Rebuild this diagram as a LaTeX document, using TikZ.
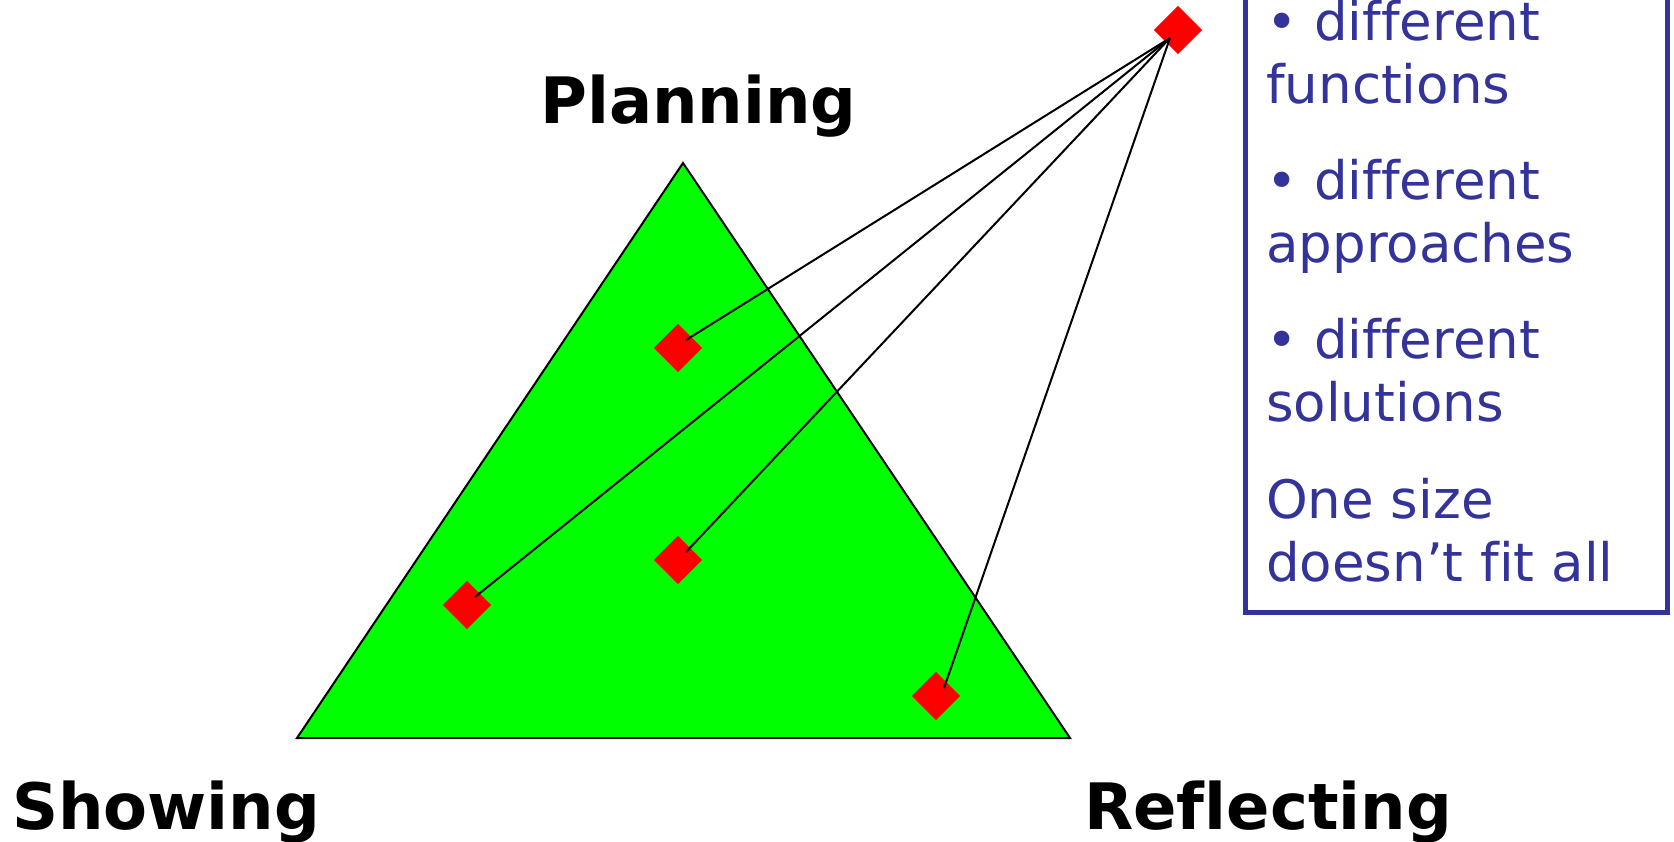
\documentclass[tikz,border=0pt]{standalone}
\usepackage{fontspec}
\setmainfont[Ligatures={NoCommon}]{DejaVu Sans}
\usetikzlibrary{calc}
\definecolor{boxblue}{RGB}{51,51,153}
\definecolor{trigreen}{RGB}{0,255,0}
\begin{document}
\begin{tikzpicture}[x=1pt,y=-1pt,
  dia/.style={fill=red, rectangle, rotate=45, minimum size=34pt, inner sep=0pt},
  lbl/.style={font=\fontsize{64}{64}\selectfont\bfseries, anchor=base west, inner sep=0pt},
  btxt/.style={font=\fontsize{53}{63}\selectfont, text=boxblue, anchor=base west, inner sep=0pt},
  conn/.style={draw=black, line width=2pt},
  tri/.style={fill=trigreen, draw=black, line width=2pt, line join=miter},
  frame/.style={draw=boxblue, line width=5pt}]
\useasboundingbox (0,0) rectangle (1674,842);
\clip (0,0) rectangle (1674,842);
% triangle
\coordinate (apex) at (683,163);
\coordinate (bl) at (297,738);
\coordinate (br) at (1070,738);
\draw[tri] (apex) -- (bl) -- (br) -- cycle;
% labels
\node[lbl] (planning) at (540,124) {Planning};
\node[lbl] (showing) at (12,829) {Showing};
\node[lbl] (reflecting) at (1084,829) {Reflecting};
% diamonds
\node[dia] (dtop) at (1178,30) {};
\node[dia] (d1) at (678,348) {};
\node[dia] (d2) at (467,605) {};
\node[dia] (d3) at (678,560) {};
\node[dia] (d4) at (936,696) {};
% connector ends
\coordinate (ptop) at ($(dtop)+(-8,8)$);
\coordinate (p1) at ($(d1)+(8,-8)$);
\coordinate (p2) at ($(d2)+(8,-8)$);
\coordinate (p3) at ($(d3)+(8,-8)$);
\coordinate (p4) at ($(d4)+(8,-8)$);
\draw[conn] (ptop) -- (p1);
\draw[conn] (ptop) -- (p2);
\draw[conn] (ptop) -- (p3);
\draw[conn] (ptop) -- (p4);
% box
\draw[frame] (1245,-20) rectangle (1667,612);
\node[btxt] (t1) at (1266,40.6) {• different};
\node[btxt] (t2) at (1266,103.6) {functions};
\node[btxt] (t3) at (1266,199.6) {• different};
\node[btxt] (t4) at (1266,262.6) {approaches};
\node[btxt] (t5) at (1266,358.7) {• different};
\node[btxt] (t6) at (1266,421.7) {solutions};
\node[btxt] (t7) at (1266,518.9) {One size};
\node[btxt] (t8) at (1266,581.9) {doesn’t fit all};
\end{tikzpicture}
\end{document}
